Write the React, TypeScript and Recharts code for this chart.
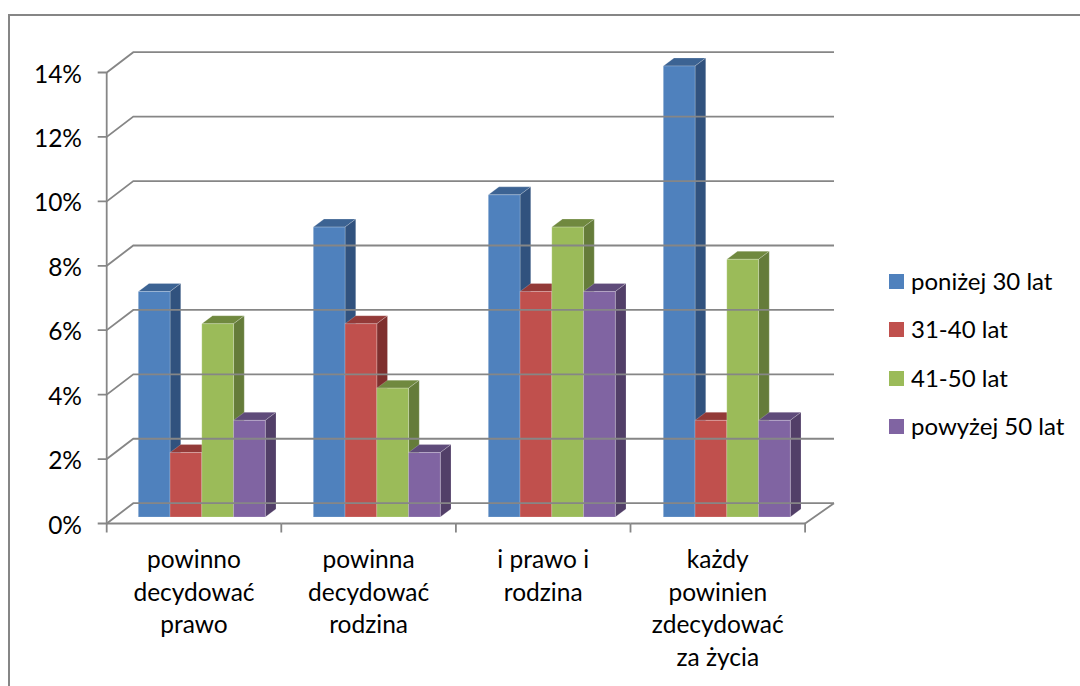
import React from "react";
import { BarChart, Bar, XAxis, YAxis, Legend } from "recharts";

// Share of answers per age group, in percent
const categories = [
  "powinno\ndecydować\nprawo",
  "powinna\ndecydować\nrodzina",
  "i prawo i\nrodzina",
  "każdy\npowinien\nzdecydować\nza życia",
];
const under30 = [7, 9, 10, 14];
const age31to40 = [2, 6, 7, 3];
const age41to50 = [6, 4, 9, 8];
const over50 = [3, 2, 7, 3];
const percentTicks = [0, 2, 4, 6, 8, 10, 12, 14];

const rows = categories.map((category, i) => ({
  category,
  under30: under30[i],
  age31to40: age31to40[i],
  age41to50: age41to50[i],
  over50: over50[i],
}));

const seriesList = [
  { key: "under30", name: "poniżej 30 lat", front: "#4F81BD", side: "#31527E", top: "#3C6393" },
  { key: "age31to40", name: "31-40 lat", front: "#C0504D", side: "#7F2F2E", top: "#933A38" },
  { key: "age41to50", name: "41-50 lat", front: "#9BBB59", side: "#657C3A", top: "#70893F" },
  { key: "over50", name: "powyżej 50 lat", front: "#8064A2", side: "#523F68", top: "#5F4B7A" },
];

const FONT = "Lato, 'Open Sans', sans-serif";
const FONT_SIZE = 24.5;
const LEGEND_FONT_SIZE = 24;
const TEXT = "#000000";
const AXIS = "#868686";

const WIDTH = 1080;
const HEIGHT = 686;
const Y_AXIS_WIDTH = 60;
const X_AXIS_HEIGHT = 100;
const PLOT_LEFT = 114.3;
const PLOT_WIDTH = 700;
const PLOT_TOP = 66;
const PLOT_BOTTOM = 517;
const STEP = (PLOT_BOTTOM - PLOT_TOP) / (percentTicks.length - 1);

// Projection of the 3D box: front plane, back wall and bar depth
const FRONT_LEFT = 106.7;
const FRONT_WIDTH = 698.4;
const FRONT_DY = 6.5;
const WALL_LEFT = 133.3;
const WALL_RIGHT = 834;
const WALL_DY = -20.3;
const BAR_DX = 10.7;
const BAR_DY = -8;

const axisLine = { stroke: AXIS, strokeWidth: 1.8, fill: "none" };

function PercentTick({ y, payload }: any) {
  const frontY = y + FRONT_DY;
  const wallY = frontY + WALL_DY;
  return (
    <g>
      <path d={`M${FRONT_LEFT - 9} ${frontY}H${FRONT_LEFT}L${WALL_LEFT} ${wallY}H${WALL_RIGHT}`} {...axisLine} />
      {payload.value > 0 && <path d={`M${FRONT_LEFT} ${frontY}V${frontY + STEP}`} {...axisLine} />}
      <text x={82} y={frontY + 10} textAnchor="end" fontFamily={FONT} fontSize={FONT_SIZE} fill={TEXT}>
        {payload.value}%
      </text>
    </g>
  );
}

function CategoryTick({ x, y, payload, index }: any) {
  const band = FRONT_WIDTH / categories.length;
  const center = FRONT_LEFT + ((x - PLOT_LEFT) * FRONT_WIDTH) / PLOT_WIDTH;
  const left = center - band / 2;
  const right = center + band / 2;
  const axisY = y + FRONT_DY;
  const lines = String(payload.value).split("\n");
  return (
    <g>
      <path d={`M${left} ${axisY}H${right}`} {...axisLine} />
      <path d={`M${left} ${axisY}v9`} {...axisLine} />
      {index === categories.length - 1 && (
        <path d={`M${right} ${axisY + 9}V${axisY}L${WALL_RIGHT} ${axisY + WALL_DY}`} {...axisLine} />
      )}
      {lines.map((line: string, i: number) => (
        <text key={line} x={center} y={568 + i * 32.5} textAnchor="middle" fontFamily={FONT} fontSize={FONT_SIZE} fill={TEXT}>
          {line}
        </text>
      ))}
    </g>
  );
}

function Box3D({ x, y, width, height, front, side, top }: any) {
  const right = x + width;
  const bottom = y + height;
  const edge = { stroke: "#ffffff", strokeOpacity: 0.2, strokeWidth: 1 };
  return (
    <g>
      <path d={`M${x} ${y}l${BAR_DX} ${BAR_DY}H${right + BAR_DX}L${right} ${y}Z`} fill={top} {...edge} />
      <path d={`M${right} ${y}l${BAR_DX} ${BAR_DY}V${bottom + BAR_DY}L${right} ${bottom}Z`} fill={side} {...edge} />
      <rect x={x} y={y} width={width} height={height} fill={front} {...edge} />
    </g>
  );
}

function LegendList({ payload }: any) {
  return (
    <div>
      {(payload || []).map((entry: any) => (
        <div
          key={entry.value}
          style={{ display: "flex", alignItems: "center", height: 48.4, fontFamily: FONT, fontSize: LEGEND_FONT_SIZE, color: TEXT, whiteSpace: "nowrap" }}
        >
          <span style={{ width: 15, height: 15, background: entry.color, marginRight: 7, flex: "none" }} />
          <span style={{ position: "relative", top: -1 }}>{entry.value}</span>
        </div>
      ))}
    </div>
  );
}

export default function App() {
  return (
    <div style={{ position: "absolute", left: 0, top: 0, width: WIDTH, height: HEIGHT, overflow: "hidden", background: "#fff" }}>
      <div
        style={{
          position: "absolute",
          left: 8,
          top: 14,
          width: WIDTH,
          height: HEIGHT,
          borderLeft: `2px solid ${AXIS}`,
          borderTop: `2px solid ${AXIS}`,
        }}
      />
      <div style={{ position: "absolute", left: 0, top: 0 }}>
        <BarChart
          width={WIDTH}
          height={HEIGHT}
          data={rows}
          barSize={31.75}
          barGap={0}
          margin={{
            left: PLOT_LEFT - Y_AXIS_WIDTH,
            top: PLOT_TOP,
            right: WIDTH - PLOT_LEFT - PLOT_WIDTH,
            bottom: HEIGHT - PLOT_BOTTOM - X_AXIS_HEIGHT,
          }}
        >
          <XAxis
            dataKey="category"
            height={X_AXIS_HEIGHT}
            interval={0}
            axisLine={false}
            tickLine={false}
            tickSize={0}
            tickMargin={0}
            tick={<CategoryTick />}
          />
          <YAxis
            width={Y_AXIS_WIDTH}
            domain={[0, 14]}
            ticks={percentTicks}
            interval={0}
            axisLine={false}
            tickLine={false}
            tickSize={0}
            tickMargin={0}
            tick={<PercentTick />}
          />
          {seriesList.map((s) => (
            <Bar
              key={s.key}
              dataKey={s.key}
              name={s.name}
              fill={s.front}
              isAnimationActive={false}
              shape={(props: any) => <Box3D {...props} front={s.front} side={s.side} top={s.top} />}
            />
          ))}
          <Legend
            layout="horizontal"
            verticalAlign="middle"
            align="center"
            itemSorter={null}
            content={<LegendList />}
            wrapperStyle={{ left: 889, top: 257.3, width: 191 }}
          />
        </BarChart>
      </div>
    </div>
  );
}
